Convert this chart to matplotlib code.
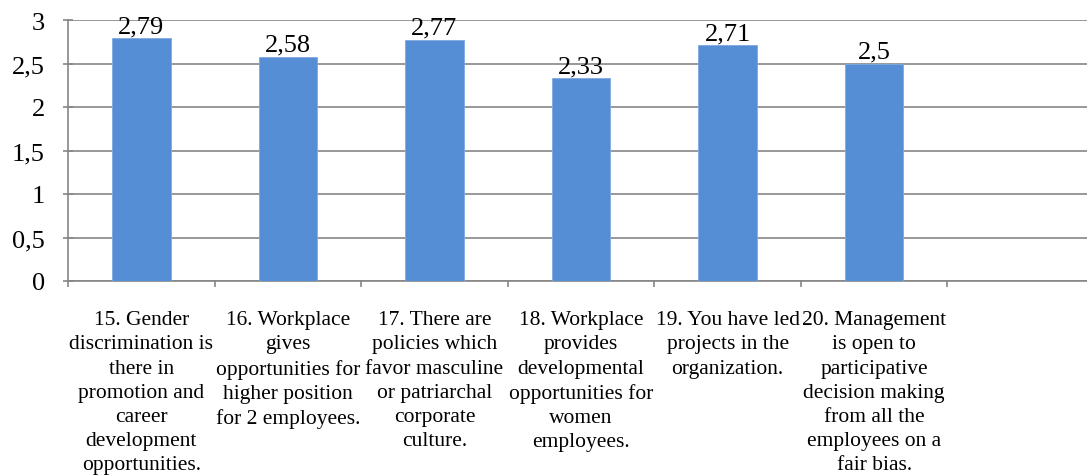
import numpy as np
import matplotlib.pyplot as plt
from matplotlib.ticker import FixedLocator, NullFormatter

plt.rcParams['font.family'] = ['Liberation Serif', 'DejaVu Serif']

# data
categories = [
    "15. Gender\ndiscrimination is\nthere in\npromotion and\ncareer\ndevelopment\nopportunities.",
    "16. Workplace\ngives\nopportunities for\nhigher position\nfor 2 employees.",
    "17. There are\npolicies which\nfavor masculine\nor patriarchal\ncorporate\nculture.",
    "18. Workplace\nprovides\ndevelopmental\nopportunities for\nwomen\nemployees.",
    "19. You have led\nprojects in the\norganization.",
    "20. Management\nis open to\nparticipative\ndecision making\nfrom all the\nemployees on a\nfair bias.",
    "",
]
values = [2.79, 2.58, 2.77, 2.33, 2.71, 2.5]
yticks = [0, 0.5, 1, 1.5, 2, 2.5, 3]

def comma(v):
    return ('%g' % v).replace('.', ',')

W, H = 1087, 477
fig = plt.figure(figsize=(W / 100, H / 100), dpi=100)
ax = fig.add_axes([68 / W, 1 - 282 / H, (1094 - 68) / W, (282 - 21) / H])

x = np.arange(len(values))
ax.bar(x, values, width=0.4, color='#558ed5', edgecolor='#7ea9e1',
       linewidth=0.6, zorder=3)
for xi, v in zip(x, values):
    ax.annotate(comma(v), (xi, v), xytext=(0, 4.5), textcoords='offset points',
                ha='center', va='baseline', fontsize=19)

ax.set_xlim(-0.5, len(categories) - 0.5)
ax.set_ylim(0, 3)
ax.set_yticks(yticks)
ax.set_yticklabels([comma(t) for t in yticks], fontsize=19)
ax.yaxis.grid(True, color='#868686', linewidth=1.2, zorder=0)

ax.xaxis.set_major_locator(FixedLocator(np.arange(len(categories) + 1) - 0.5))
ax.xaxis.set_major_formatter(NullFormatter())
ax.set_xticks(np.arange(len(categories)), minor=True)
ax.set_xticklabels(categories, minor=True, fontsize=15.5, linespacing=1.37)
ax.tick_params(axis='x', which='minor', length=0, pad=21)
ax.tick_params(axis='x', which='major', length=4, color='#868686', width=1.2)
ax.tick_params(axis='y', direction='inout', length=7.2, color='#868686',
               width=1.2, pad=13)

for s in ['top', 'right']:
    ax.spines[s].set_visible(False)
for s in ['left', 'bottom']:
    ax.spines[s].set_color('#868686')
    ax.spines[s].set_linewidth(1.2)

fig.savefig('out.png', dpi=100)
